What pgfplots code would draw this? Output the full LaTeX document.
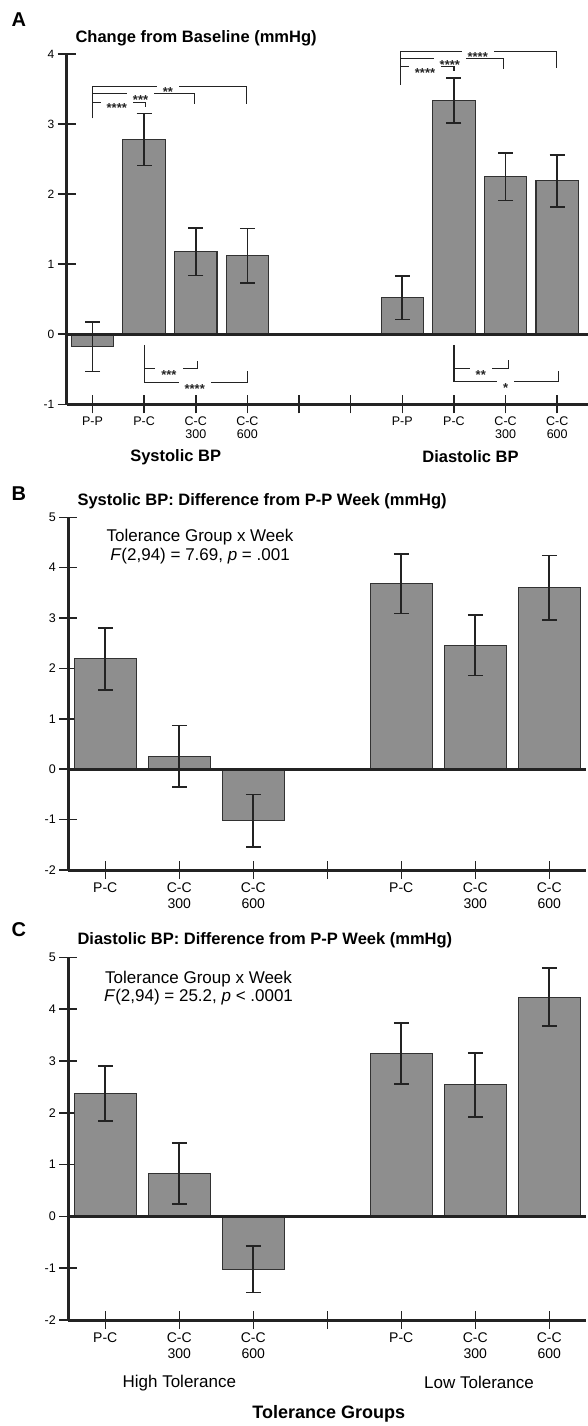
\documentclass[border=0pt]{standalone}
\usepackage{pgfplots}
\pgfplotsset{compat=1.18}
\usepackage{fontspec}
\setmainfont{Liberation Sans}
\definecolor{axiscol}{RGB}{35,35,35}
\definecolor{barfill}{RGB}{142,142,142}
\definecolor{bardraw}{RGB}{50,50,50}
\newcommand{\fs}[2]{\fontsize{#1bp}{#2bp}\selectfont}
\newcommand{\st}[1]{\raisebox{-8.5bp}{#1}}
\pgfplotsset{
  panel/.style={
    scale only axis, anchor=south west, clip=false,
    axis x line*=bottom, axis y line*=left,
    axis line style={line width=3bp, color=axiscol},
    tick align=center, major tick length=18bp,
    tick style={line width=1.5bp, color=axiscol},
    xticklabel style={align=center},
    yticklabel style={anchor=east},
  },
  bars/.style={ybar, fill=barfill, draw=bardraw, line width=1.1bp,
    error bars/.cd, y dir=both, y explicit,
    error bar style={line width=1.7bp, color=axiscol},
    error mark options={rotate=90, mark size=7.5bp, line width=1.7bp, color=axiscol}},
}
\tikzset{
  brk/.style={line width=1.1bp, color=axiscol},
  star/.style={fill=white, inner xsep=6bp, inner ysep=0.8bp, text height=4bp, text depth=0bp,
    font=\fs{13}{13}\bfseries, text=axiscol},
}
\begin{document}
\begin{tikzpicture}
\useasboundingbox (0,0) rectangle (588bp,-1426bp);
% ---------------- Panel A
\node[anchor=west, font=\fs{20}{24}\bfseries] at (8bp,-20bp) {A};
\node[anchor=west, font=\fs{16.5}{20}\bfseries] at (72bp,-38.3bp) {Change from Baseline (mmHg)};
\begin{axis}[panel, at={(66.7bp,-404.3bp)}, width=521.5bp, height=350.3bp,
  xmin=0.5, xmax=10.6, ymin=-1, ymax=4,
  xtick={1,...,10},
  xticklabels={P-P,P-C,{C-C\\300},{C-C\\600},{},{},P-P,P-C,{C-C\\300},{C-C\\600}},
  xticklabel style={font=\fs{12.5}{13}},
  ytick={-1,0,1,2,3,4}, yticklabels={-1,0,1,2,3,4},
  yticklabel style={font=\fs{12}{14}},
]
\addplot[bar width=42.5bp, bars] coordinates {
  (1,-0.18) +- (0,0.35)
  (2,2.78) +- (0,0.37)
  (3,1.18) +- (0,0.34)
  (4,1.12) +- (0,0.39)
  (7,0.52) +- (0,0.31)
  (8,3.34) +- (0,0.32)
  (9,2.25) +- (0,0.34)
  (10,2.19) +- (0,0.37)
};
\draw[line width=3bp, axiscol] (axis cs:0.5,0) -- (axis cs:10.6,0);
% systolic top brackets
\draw[brk] (axis cs:1,3.08) -- (axis cs:1,3.54) -- (axis cs:3.99,3.54) -- (axis cs:3.99,3.29);
\draw[brk] (axis cs:1,3.43) -- (axis cs:2.97,3.43) -- (axis cs:2.97,3.29);
\draw[brk] (axis cs:1,3.31) -- (axis cs:2.02,3.31) -- (axis cs:2.02,3.25);
\node[star] at (axis cs:2.46,3.54) {\st{**}};
\node[star] at (axis cs:1.93,3.43) {\st{***}};
\node[star] at (axis cs:1.47,3.31) {\st{****}};
% diastolic top brackets
\draw[brk] (axis cs:6.97,3.56) -- (axis cs:6.97,4.04) -- (axis cs:9.99,4.04) -- (axis cs:9.99,3.80);
\draw[brk] (axis cs:6.97,3.93) -- (axis cs:8.96,3.93) -- (axis cs:8.96,3.78);
\draw[brk] (axis cs:6.97,3.82) -- (axis cs:8.0,3.82) -- (axis cs:8.0,3.76);
\node[star] at (axis cs:8.46,4.04) {\st{****}};
\node[star] at (axis cs:7.92,3.93) {\st{****}};
\node[star] at (axis cs:7.44,3.82) {\st{****}};
% systolic bottom brackets
\draw[brk] (axis cs:2,-0.15) -- (axis cs:2,-0.69) -- (axis cs:4.0,-0.69) -- (axis cs:4.0,-0.52);
\draw[brk] (axis cs:2,-0.49) -- (axis cs:3.03,-0.49) -- (axis cs:3.03,-0.38);
\node[star] at (axis cs:2.48,-0.49) {\st{***}};
\node[star] at (axis cs:2.98,-0.69) {\st{****}};
% diastolic bottom brackets
\draw[brk] (axis cs:8,-0.15) -- (axis cs:8,-0.68) -- (axis cs:10.02,-0.68) -- (axis cs:10.02,-0.53);
\draw[brk] (axis cs:8,-0.49) -- (axis cs:9.05,-0.49) -- (axis cs:9.05,-0.37);
\node[star] at (axis cs:8.52,-0.49) {\st{**}};
\node[star] at (axis cs:9.0,-0.68) {\st{*}};
\node[font=\fs{16.5}{20}\bfseries] at (axis cs:2.61,-1.75) {Systolic BP};
\node[font=\fs{16.5}{20}\bfseries] at (axis cs:8.32,-1.75) {Diastolic BP};
\end{axis}
% ---------------- Panel B
\node[anchor=west, font=\fs{20}{24}\bfseries] at (8bp,-493.3bp) {B};
\node[anchor=west, font=\fs{16.5}{20}\bfseries] at (74bp,-501.7bp) {Systolic BP: Difference from P-P Week (mmHg)};
\begin{axis}[panel, at={(68.3bp,-870bp)}, width=518bp, height=352.7bp,
  xmin=0.5, xmax=7.5, ymin=-2, ymax=5,
  xtick={1,...,7},
  xticklabels={P-C,{C-C\\300},{C-C\\600},{},P-C,{C-C\\300},{C-C\\600}},
  xticklabel style={font=\fs{14}{16.5}},
  ytick={-2,-1,0,1,2,3,4,5}, yticklabels={-2,-1,0,1,2,3,4,5},
  yticklabel style={font=\fs{12.5}{14}},
]
\addplot[bar width=62bp, bars] coordinates {
  (1,2.19) +- (0,0.62)
  (2,0.26) +- (0,0.61)
  (3,-1.02) +- (0,0.52)
  (5,3.68) +- (0,0.59)
  (6,2.46) +- (0,0.60)
  (7,3.60) +- (0,0.64)
};
\draw[line width=3bp, axiscol] (axis cs:0.5,0) -- (axis cs:7.5,0);
\node[align=center, font=\fs{17}{18.3}] at (axis cs:2.28,4.42) {Tolerance Group x Week\\\textit{F}(2,94) = 7.69, \textit{p} = .001};
\end{axis}
% ---------------- Panel C
\node[anchor=west, font=\fs{20}{24}\bfseries] at (8bp,-930bp) {C};
\node[anchor=west, font=\fs{16.5}{20}\bfseries] at (74bp,-940.7bp) {Diastolic BP: Difference from P-P Week (mmHg)};
\begin{axis}[panel, at={(68.3bp,-1320bp)}, width=518bp, height=362.7bp,
  xmin=0.5, xmax=7.5, ymin=-2, ymax=5,
  xtick={1,...,7},
  xticklabels={P-C,{C-C\\300},{C-C\\600},{},P-C,{C-C\\300},{C-C\\600}},
  xticklabel style={font=\fs{14}{16.5}},
  ytick={-2,-1,0,1,2,3,4,5}, yticklabels={-2,-1,0,1,2,3,4,5},
  yticklabel style={font=\fs{12.5}{14}},
]
\addplot[bar width=62bp, bars] coordinates {
  (1,2.37) +- (0,0.53)
  (2,0.83) +- (0,0.59)
  (3,-1.02) +- (0,0.45)
  (5,3.14) +- (0,0.59)
  (6,2.54) +- (0,0.62)
  (7,4.23) +- (0,0.56)
};
\draw[line width=3bp, axiscol] (axis cs:0.5,0) -- (axis cs:7.5,0);
\node[align=center, font=\fs{17}{18.3}] at (axis cs:2.26,4.41) {Tolerance Group x Week\\\textit{F}(2,94) = 25.2, \textit{p} < .0001};
\node[font=\fs{17}{20}] at (axis cs:2,-3.21) {High Tolerance};
\node[font=\fs{17}{20}] at (axis cs:6.05,-3.21) {Low Tolerance};
\node[font=\fs{18}{22}\bfseries] at (axis cs:4.02,-3.81) {Tolerance Groups};
\end{axis}
\end{tikzpicture}
\end{document}
